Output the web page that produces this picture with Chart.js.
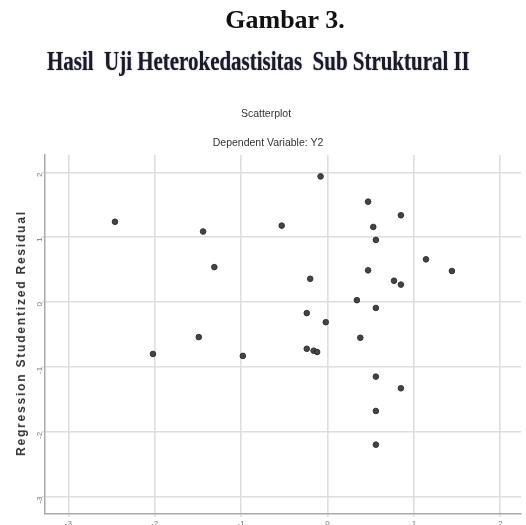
<!DOCTYPE html>
<html>
<head>
<meta charset="utf-8">
<script src="https://cdn.jsdelivr.net/npm/chart.js@4"></script>
<style>
  html, body { margin: 0; padding: 0; background: #fff; overflow: hidden; }
  body { width: 526px; height: 525px; position: relative; }
  #wrap { position: absolute; left: 0; top: 0; width: 526px; height: 545px; }
  .txt { position: absolute; white-space: nowrap; }
  #gambar { left: 0; width: 570px; top: 5px; text-align: center; font: bold 26px "Liberation Serif", serif; color: #111; }
  #hasil { left: 47px; top: 46px; font: bold 27px "Liberation Serif", serif; color: #1a1a2a;
           transform-origin: 0 0; transform: scaleX(0.776); text-shadow: 0 0 1.5px rgba(40,40,80,0.6); }
  #sc { left: 0; width: 532px; top: 107px; text-align: center; font: 10.5px "Liberation Sans", sans-serif; color: #333; }
  #dep { left: 0; width: 536px; top: 136px; text-align: center; font: 10.5px "Liberation Sans", sans-serif; color: #333; }
  #ytitle { left: 21px; top: 333px; font: bold 12px "Liberation Sans", sans-serif; color: #333; letter-spacing: 1.8px;
            transform: translate(-50%, -50%) rotate(-90deg); }
</style>
</head>
<body>
<div id="wrap"><canvas id="chart"></canvas></div>
<div class="txt" id="gambar">Gambar 3.</div>
<div class="txt" id="hasil">Hasil&nbsp; Uji Heterokedastisitas&nbsp; Sub Struktural II</div>
<div class="txt" id="sc">Scatterplot</div>
<div class="txt" id="dep">Dependent Variable: Y2</div>
<div class="txt" id="ytitle">Regression Studentized Residual</div>
<script>
// Regression standardized predicted value (x) vs studentized residual (y)
const predicted = [-2.46, -1.44, -1.31, -1.49, -2.02, -0.98,
  -0.08, -0.53, 0.47, 0.85, 0.53, 0.56, 1.14, 1.44, -0.20, 0.47, 0.77, 0.85,
  0.34, 0.56, -0.24, -0.02, 0.38, -0.24, -0.16, -0.12,
  0.56, 0.85, 0.56, 0.56];
const residual = [1.24, 1.09, 0.54, -0.54, -0.80, -0.83,
  1.94, 1.18, 1.55, 1.34, 1.16, 0.96, 0.66, 0.48, 0.36, 0.49, 0.33, 0.27,
  0.03, -0.09, -0.17, -0.31, -0.55, -0.72, -0.75, -0.77,
  -1.15, -1.33, -1.68, -2.20];
const xTicks = [-3, -2, -1, 0, 1, 2];
const yTicks = [-3, -2, -1, 0, 1, 2];

const points = predicted.map((x, i) => ({ x: x, y: residual[i] }));

new Chart(document.getElementById("chart"), {
  type: "scatter",
  data: {
    datasets: [{
      data: points,
      pointRadius: 2.8,
      pointBackgroundColor: "#444",
      pointBorderColor: "#333",
      pointBorderWidth: 1
    }]
  },
  options: {
    responsive: true,
    maintainAspectRatio: false,
    animation: false,
    layout: { padding: { top: 155, right: 5, left: 0, bottom: 0 } },
    plugins: { legend: { display: false }, tooltip: { enabled: false } },
    scales: {
      x: {
        type: "linear",
        min: -3.27,
        max: 2.24,
        afterBuildTicks: s => { s.ticks = xTicks.map(v => ({ value: v })); },
        afterFit: s => { s.height = 31; },
        grid: { color: "#dedede", lineWidth: 1.6, tickLength: 3 },
        border: { color: "#aaa", width: 1.5 },
        ticks: { color: "#777", font: { size: 8, family: "Liberation Sans" }, padding: 2, maxRotation: 0 }
      },
      y: {
        type: "linear",
        min: -3.27,
        max: 2.27,
        afterBuildTicks: s => { s.ticks = yTicks.map(v => ({ value: v })); },
        afterFit: s => { s.width = 45; },
        grid: { color: "#dedede", lineWidth: 1.6, tickLength: 3 },
        border: { color: "#aaa", width: 1.5 },
        ticks: { color: "#777", font: { size: 8, family: "Liberation Sans" }, padding: 2, minRotation: 90, maxRotation: 90 }
      }
    }
  }
});
</script>
</body>
</html>
